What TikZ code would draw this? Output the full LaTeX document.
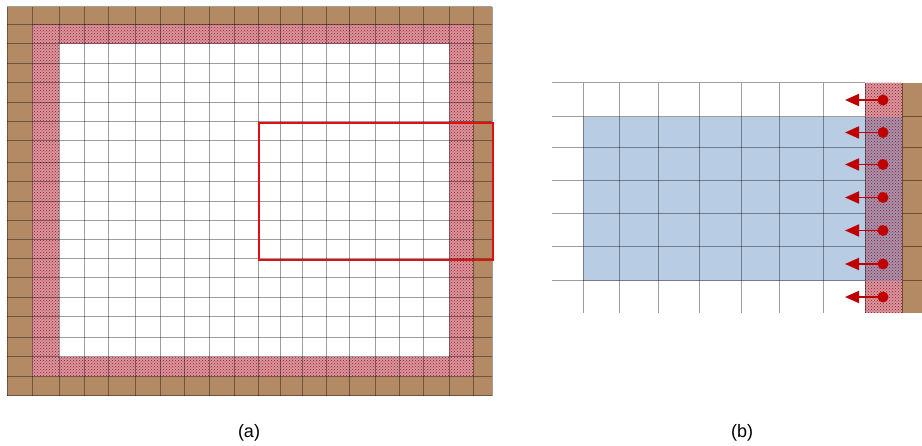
\documentclass[tikz,border=0pt]{standalone}
\usepackage{fontspec}
\setmainfont{Liberation Sans}
\usetikzlibrary{patterns,arrows.meta}
\definecolor{brownc}{HTML}{B48A64}
\definecolor{brownl}{HTML}{6E4E30}
\definecolor{hatchbg}{HTML}{D8969E}
\definecolor{hatchfg}{HTML}{A01424}
\definecolor{bluec}{HTML}{B8CCE4}
\definecolor{purplebg}{HTML}{A494B0}
\definecolor{redc}{HTML}{C00000}
\definecolor{rectred}{HTML}{E01010}
\begin{document}
\begin{tikzpicture}[x=1pt,y=-1pt,
  gridline/.style={draw=black,draw opacity=0.38,line width=1pt},
  brownline/.style={draw=brownl,line width=1pt},
  hatchfill/.style={pattern=crosshatch dots,pattern color=hatchfg},
  zoomrect/.style={draw=rectred,line width=2pt},
  reddot/.style={circle,fill=redc,inner sep=0pt,minimum size=11pt},
  flux/.style={draw=redc,line width=1.8pt,-{Triangle[length=14pt,width=12pt]}},
  caption/.style={font=\fontsize{18}{20}\selectfont,inner sep=0pt}]
\useasboundingbox (0,0) rectangle (922,446);
% ---------- panel (a) ----------
\fill[brownc] (7,7) rectangle (492,396);
\fill[hatchbg] (32,25) rectangle (473,377);
\fill[hatchfill] (32,25) rectangle (473,377);
\fill[white] (59,44) rectangle (449,357);
\foreach \x in {7,32,59,84,108,135,160,184,209,234,258,280,302,326,349,375,399,423,449,473,492}
  \draw[gridline] (\x,7) -- (\x,396);
\foreach \y in {7,25,44,64,83,103,122,141,163,182,202,221,240,259,278,298,317,338,357,377,396}
  \draw[gridline] (7,\y) -- (492,\y);
\node[zoomrect,inner sep=0pt,minimum width=234pt,minimum height=137pt,anchor=north west] (zoom) at (258,122) {};
% ---------- panel (b) ----------
\fill[hatchbg] (865,83) rectangle (902,313);
\fill[bluec] (583,117) rectangle (865,281);
\fill[purplebg] (865,117) rectangle (902,281);
\fill[hatchfill] (865,83) rectangle (902,313);
\fill[brownc] (902,83) rectangle (922,313);
\foreach \y in {83,117,148,181,214,247,281}
  \draw[gridline] (552,\y) -- (865,\y);
\foreach \y in {117,148,181,214,247,281}
  \draw[brownline] (902,\y) -- (922,\y);
\foreach \x in {583,619,658,699,741,779,823,865}
  \draw[gridline] (\x,83) -- (\x,313);
\draw[brownline] (902,83) -- (902,313);
\foreach \i/\yc in {1/100,2/132.5,3/164.5,4/197.5,5/230.5,6/264,7/297}{
  \node[reddot] (d\i) at (883,\yc) {};
  \coordinate (t\i) at (845,\yc);
  \draw[flux] (d\i.center) -- (t\i);
}
% ---------- captions ----------
\node[caption] (la) at (249,433) {(a)};
\node[caption] (lb) at (742,433) {(b)};
\end{tikzpicture}
\end{document}
